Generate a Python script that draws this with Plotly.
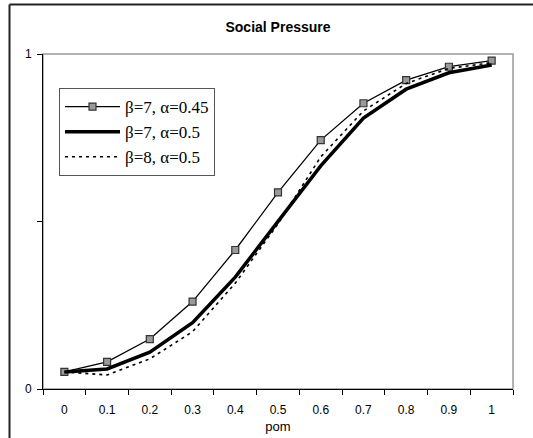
import plotly.graph_objects as go

categories = ["0", "0.1", "0.2", "0.3", "0.4", "0.5", "0.6", "0.7", "0.8", "0.9", "1"]
series_a = [0.051, 0.081, 0.149, 0.261, 0.415, 0.587, 0.743, 0.853, 0.922, 0.962, 0.980]
series_b = [0.051, 0.060, 0.110, 0.198, 0.334, 0.501, 0.666, 0.809, 0.895, 0.944, 0.967]
series_c = [0.051, 0.042, 0.090, 0.171, 0.316, 0.493, 0.693, 0.830, 0.912, 0.957, 0.974]
names = ["β=7, α=0.45", "β=7, α=0.5", "β=8, α=0.5"]
y_tickvals = [0, 0.5, 1]
y_ticktext = ["0", "", "1"]

W, H = 533, 438
ML, MR, MT, MB = 43, 20, 54, 49
PW, PH = W - ML - MR, H - MT - MB


def px_x(p):
    return (p - ML) / PW


def px_y(p):
    return (H - MB - p) / PH


fig = go.Figure()
fig.add_trace(go.Scatter(
    x=categories, y=series_a, name=names[0], mode="lines+markers",
    line=dict(color="black", width=1.3),
    marker=dict(symbol="square", size=7, color="#9a9a9a",
                line=dict(color="#333333", width=1.2)),
))
fig.add_trace(go.Scatter(
    x=categories, y=series_b, name=names[1], mode="lines",
    line=dict(color="black", width=3.5),
))
fig.add_trace(go.Scatter(
    x=categories, y=series_c, name=names[2], mode="lines",
    line=dict(color="black", width=1.6, dash="3px,4px"),
))

fig.update_layout(
    width=W, height=H,
    margin=dict(l=ML, r=MR, t=MT, b=MB),
    paper_bgcolor="white", plot_bgcolor="white",
    title=dict(text="<b>Social Pressure</b>", x=0.5, xref="paper",
               y=1 - 27 / H, yref="container", yanchor="middle", xanchor="center",
               font=dict(family="Liberation Sans", size=14, color="black")),
    font=dict(family="Liberation Sans", size=12, color="black"),
    showlegend=True,
    legend=dict(x=px_x(59), y=px_y(88), xanchor="left", yanchor="top",
                bgcolor="white", bordercolor="#555555", borderwidth=1,
                font=dict(family="Liberation Serif", size=17, color="black"),
                itemwidth=55, tracegroupgap=0),
    xaxis=dict(type="category", range=[-0.5, 10.5], tickson="boundaries",
               automargin=False,
               ticks="outside", ticklen=5, tickcolor="black", tickwidth=1,
               ticklabelstandoff=10,
               showline=True, linecolor="black", linewidth=1,
               showgrid=False, zeroline=False,
               title=dict(text="pom", standoff=5,
                          font=dict(family="Liberation Sans", size=13))),
    yaxis=dict(range=[0, 1], tickvals=y_tickvals, ticktext=y_ticktext,
               automargin=False,
               ticks="outside", ticklen=5, tickcolor="black", tickwidth=1,
               ticklabelstandoff=3,
               showline=True, linecolor="black", linewidth=1,
               showgrid=False, zeroline=False),
    shapes=[
        dict(type="rect", xref="paper", yref="paper", x0=0, x1=1, y0=0, y1=1,
             line=dict(color="#999999", width=1.5), layer="below"),
        dict(type="line", xref="paper", yref="paper",
             x0=px_x(9.5), x1=px_x(9.5), y0=px_y(4.5), y1=px_y(H + 5),
             line=dict(color="#222222", width=2)),
        dict(type="line", xref="paper", yref="paper",
             x0=px_x(9.5), x1=px_x(W + 5), y0=px_y(4.5), y1=px_y(4.5),
             line=dict(color="#222222", width=2)),
    ],
)

fig.write_html("out.html", config={"displayModeBar": False},
               post_script="document.body.style.margin='0';document.body.style.overflow='hidden';")
